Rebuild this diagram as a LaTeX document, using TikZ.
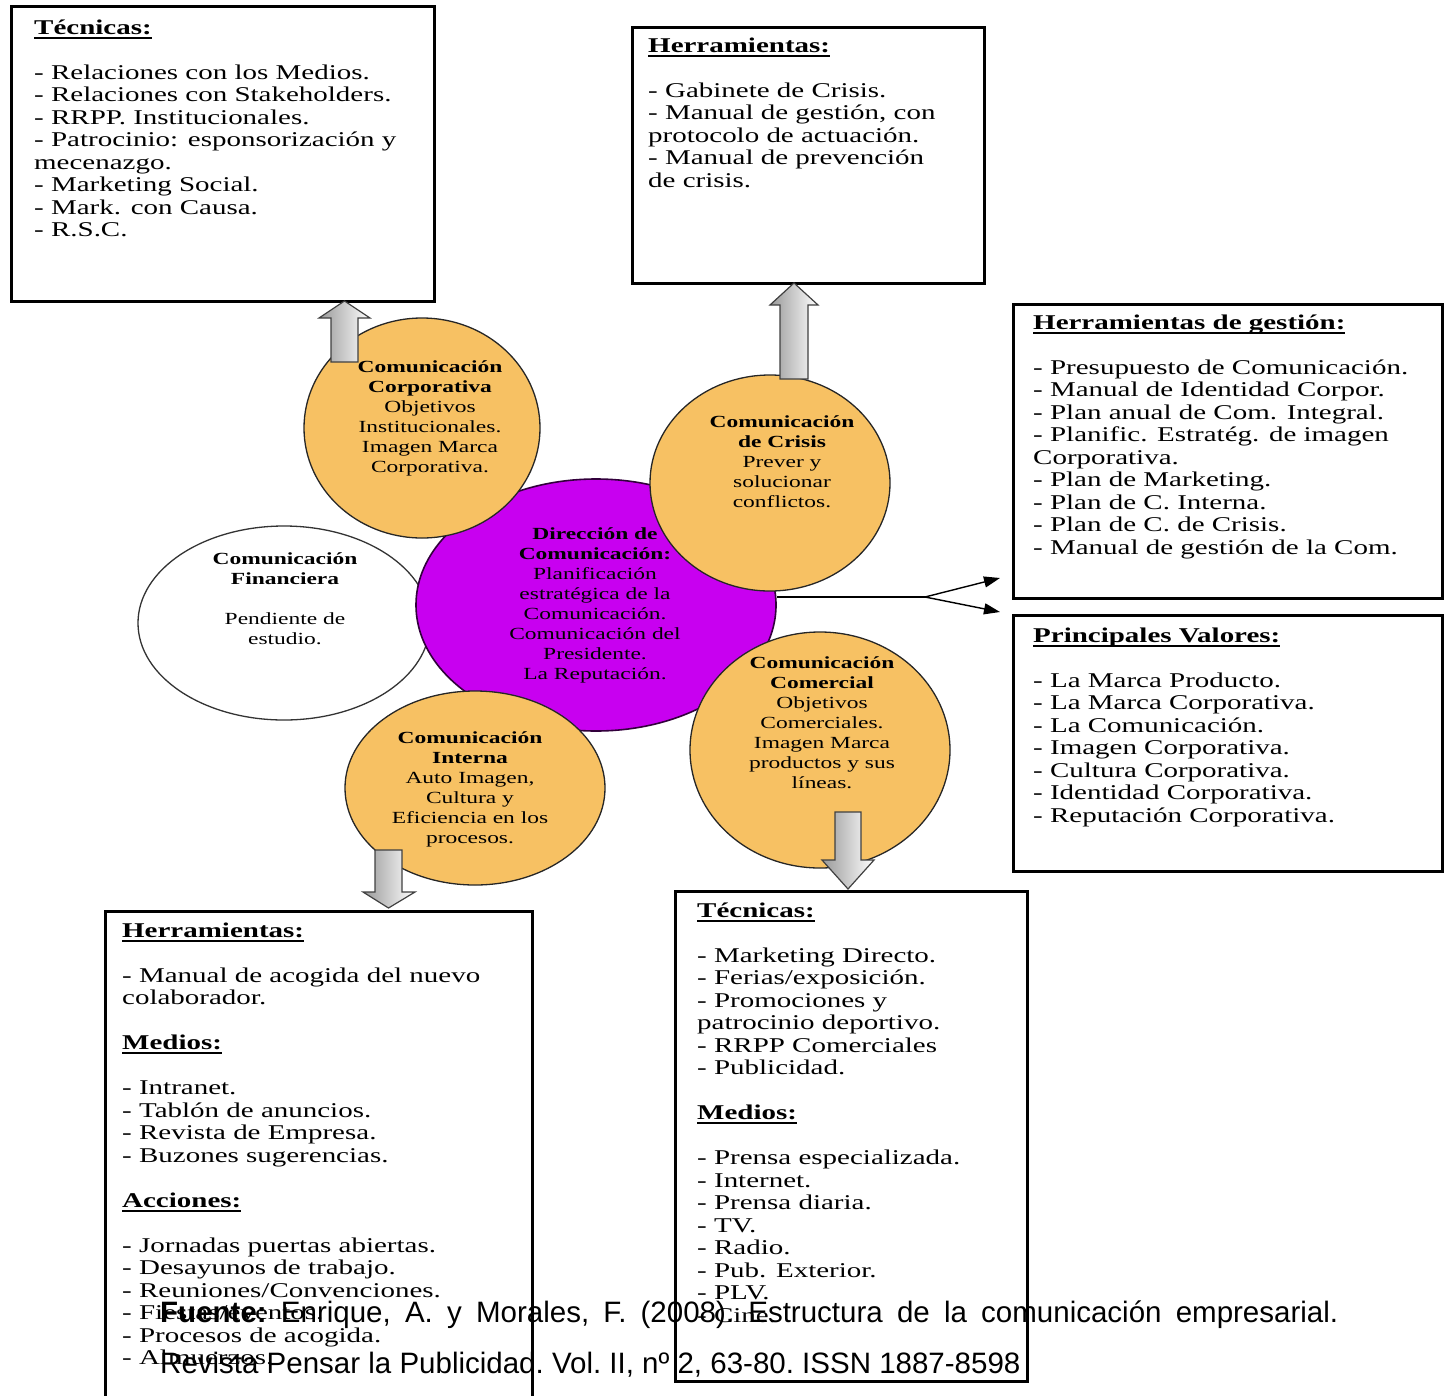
\documentclass[tikz,border=0pt]{standalone}
\usepackage{fontspec}
\setmainfont[FakeStretch=1.38]{Liberation Serif}
\newfontfamily\footfont{Liberation Sans}
\usetikzlibrary{shapes.geometric,arrows.meta,calc}
\definecolor{corange}{RGB}{247,193,99}
\definecolor{cpurple}{RGB}{200,0,240}
\newcommand\hd[1]{\sbox0{\textbf{#1}}\rlap{\rule[-4.5pt]{\wd0}{2.2pt}}\usebox0}
\newcommand\fs{\rule{0pt}{15pt}}
\begin{document}
\begin{tikzpicture}[x=1pt,y=-1pt,
  frame/.style={draw=black,line width=2.6pt,fill=white,anchor=north west,inner sep=0pt},
  boxtext/.style={anchor=north west,inner sep=0pt,align=left,font=\fontsize{21}{22.5}\selectfont},
  orb/.style={ellipse,draw=black!85,line width=1.3pt,fill=corange,inner sep=0pt},
  orbtext/.style={align=center,inner sep=0pt,font=\fontsize{17}{20}\selectfont},
  blockarrow/.style={draw=black!75,line width=1.2pt,left color=black!40,right color=white,line join=miter},
  link/.style={draw=black,line width=1.4pt},
  tip/.style={-{Triangle[length=16pt,width=11pt]}}
]
\useasboundingbox (0,0) rectangle (1448,1395);
\clip (0,0) rectangle (1448,1395);

% boxes
\node[frame,minimum width=423pt,minimum height=295pt] (tl) at (10,5) {};
\node[frame,minimum width=352pt,minimum height=256pt] (tc) at (631,26) {};
\node[frame,minimum width=429pt,minimum height=294pt] (r1) at (1012,303) {};
\node[frame,minimum width=429pt,minimum height=256pt] (r2) at (1012,614) {};
\node[frame,minimum width=427pt,minimum height=490pt] (bl) at (104,910) {};
\node[frame,minimum width=352pt,minimum height=490pt] (bc) at (674,890) {};

% circles
\node[ellipse,draw=black!80,line width=1.3pt,fill=white,inner sep=0pt,minimum width=292pt,minimum height=194pt] (fin) at (284,623) {};
\node[ellipse,draw=black!75!cpurple,line width=1.6pt,fill=cpurple,inner sep=0pt,minimum width=360pt,minimum height=252pt] (dir) at (596,605) {};
\node[orb,minimum width=236pt,minimum height=220pt] (corp) at (422,428) {};
\node[orb,minimum width=240pt,minimum height=216pt] (cris) at (770,483) {};
\node[orb,minimum width=260pt,minimum height=236pt] (come) at (820,750) {};
\node[orb,minimum width=260pt,minimum height=194pt] (inte) at (475,788) {};

% block arrows
\draw[blockarrow] (331,362) -- (331,318) -- (319,318) -- (344.5,301) -- (370,318) -- (358,318) -- (358,362) -- cycle;
\draw[blockarrow] (780,379) -- (780,305) -- (770,305) -- (794,283) -- (818,305) -- (808,305) -- (808,379) -- cycle;
\draw[blockarrow] (375,850) -- (375,892) -- (363,892) -- (388.5,908) -- (415,892) -- (402,892) -- (402,850) -- cycle;
\draw[blockarrow] (835,812) -- (835,860) -- (822,860) -- (848,889) -- (874,860) -- (861,860) -- (861,812) -- cycle;

% connector to right boxes
\coordinate (fork) at (925,597);
\coordinate (t1) at (1000,578);
\coordinate (t2) at (1000,612);
\draw[link] (fork -| dir.east) -- (fork);
\draw[link,tip] (fork) -- (t1);
\draw[link,tip] (fork) -- (t2);

% box texts
\node[boxtext] (tltext) at (34,19) {\fs\hd{Técnicas:}\\[22.5pt]
- Relaciones con los Medios.\\
- Relaciones con Stakeholders.\\
- RRPP. Institucionales.\\
- Patrocinio: esponsorización y\\
mecenazgo.\\
- Marketing Social.\\
- Mark. con Causa.\\
- R.S.C.};

\node[boxtext] (tctext) at (648,37) {\fs\hd{Herramientas:}\\[22.5pt]
- Gabinete de Crisis.\\
- Manual de gestión, con\\
protocolo de actuación.\\
- Manual de prevención\\
de crisis.};

\node[boxtext] (r1text) at (1033,314) {\fs\hd{Herramientas de gestión:}\\[22.5pt]
- Presupuesto de Comunicación.\\
- Manual de Identidad Corpor.\\
- Plan anual de Com. Integral.\\
- Planific. Estratég. de imagen\\
Corporativa.\\
- Plan de Marketing.\\
- Plan de C. Interna.\\
- Plan de C. de Crisis.\\
- Manual de gestión de la Com.};

\node[boxtext] (r2text) at (1033,627) {\fs\hd{Principales Valores:}\\[22.5pt]
- La Marca Producto.\\
- La Marca Corporativa.\\
- La Comunicación.\\
- Imagen Corporativa.\\
- Cultura Corporativa.\\
- Identidad Corporativa.\\
- Reputación Corporativa.};

\node[boxtext] (bltext) at (122,922) {\fs\hd{Herramientas:}\\[22.5pt]
- Manual de acogida del nuevo\\
colaborador.\\[22.5pt]
\hd{Medios:}\\[22.5pt]
- Intranet.\\
- Tablón de anuncios.\\
- Revista de Empresa.\\
- Buzones sugerencias.\\[22.5pt]
\hd{Acciones:}\\[22.5pt]
- Jornadas puertas abiertas.\\
- Desayunos de trabajo.\\
- Reuniones/Convenciones.\\
- Fiestas/eventos.\\
- Procesos de acogida.\\
- Almuerzos.};

\node[boxtext] (bctext) at (697,902) {\fs\hd{Técnicas:}\\[22.5pt]
- Marketing Directo.\\
- Ferias/exposición.\\
- Promociones y\\
patrocinio deportivo.\\
- RRPP Comerciales\\
- Publicidad.\\[22.5pt]
\hd{Medios:}\\[22.5pt]
- Prensa especializada.\\
- Internet.\\
- Prensa diaria.\\
- TV.\\
- Radio.\\
- Pub. Exterior.\\
- PLV.\\
- Cine.};

% circle texts
\node[orbtext] (corptext) at (430,418) {\textbf{Comunicación}\\ \textbf{Corporativa}\\ Objetivos\\ Institucionales.\\ Imagen Marca\\ Corporativa.};
\node[orbtext] (cristext) at (782,462) {\textbf{Comunicación}\\ \textbf{de Crisis}\\ Prever y\\ solucionar\\ conflictos.};
\node[orbtext] (fintext) at (285,599) {\textbf{Comunicación}\\ \textbf{Financiera}\\[20pt] Pendiente de\\ estudio.};
\node[orbtext] (dirtext) at (595,605) {\textbf{Dirección de}\\ \textbf{Comunicación:}\\ Planificación\\ estratégica de la\\ Comunicación.\\ Comunicación del\\ Presidente.\\ La Reputación.};
\node[orbtext] (cometext) at (822,723) {\textbf{Comunicación}\\ \textbf{Comercial}\\ Objetivos\\ Comerciales.\\ Imagen Marca\\ productos y sus\\ líneas.};
\node[orbtext] (intetext) at (470,789) {\textbf{Comunicación}\\ \textbf{Interna}\\ Auto Imagen,\\ Cultura y\\ Eficiencia en los\\ procesos.};

% source line
\node[anchor=north west,inner sep=0pt,text width=1178pt,align=justify,font=\footfont\fontsize{29.5}{51}\selectfont] (src) at (160,1299) {\noindent\frenchspacing\rule{0pt}{23pt}\textbf{Fuente:} Enrique, A. y Morales, F. (2008). Estructura de la comunicación empresarial.\linebreak Revista Pensar la Publicidad. Vol. II, nº 2, 63-80. ISSN 1887-8598};
\end{tikzpicture}
\end{document}
